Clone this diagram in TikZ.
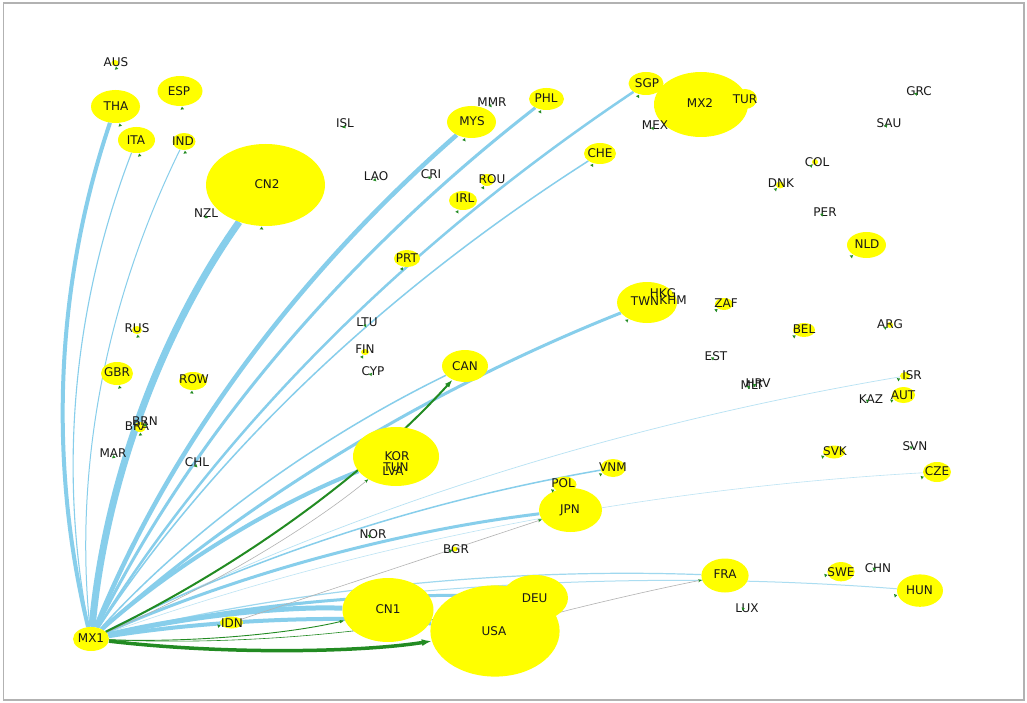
\documentclass[tikz,border=0pt]{standalone}
\usepackage{fontspec}
\setmainfont{DejaVu Sans}
\usetikzlibrary{shapes.geometric,arrows.meta,calc,backgrounds}
\definecolor{sky}{RGB}{135,206,235}
\definecolor{fgreen}{RGB}{34,139,34}
\definecolor{nodey}{RGB}{255,255,0}
\newcommand\sxf{1.45}
% arc edge: style, from, to, rad  (arc3-like, computed in unstretched space)
\newcommand\arcedge[4]{%
  \draw[#1] let \p1=(#2.center), \p2=(#3.center),
    \p3=({0.5*(\x1+\x2)-(#4)*\sxf*((\y2)-(\y1))},{0.5*(\y1+\y2)+(#4)*((\x2)-(\x1))/\sxf})
  in (#2) .. controls ($(\p1)!0.6667!(\p3)$) and ($(\p2)!0.6667!(\p3)$) .. (#3);}
% tiny green arrow tip at a node, arriving on the green arc from MX1
\newcommand\tipat[1]{%
  \path let \p1=(MX1.center), \p2=(#1.center),
    \p3=({0.5*(\x1+\x2)+0.1*\sxf*((\y2)-(\y1))},{0.5*(\y1+\y2)-0.1*((\x2)-(\x1))/\sxf})
  in (MX1) .. controls ($(\p1)!0.6667!(\p3)$) and ($(\p2)!0.6667!(\p3)$) .. node[tipmark,pos=1]{} (#1);}
\begin{document}
\begin{tikzpicture}[x=1pt,y=1pt,
  cnode/.style={ellipse, fill=nodey, draw=none, inner sep=0pt},
  lbl/.style={inner sep=0pt, font=\fontsize{12}{12}\selectfont, text=black!90},
  tipmark/.style={isosceles triangle, isosceles triangle stretches, fill=fgreen, draw=none,
    inner sep=0pt, minimum height=2.8pt, minimum width=3.6pt, anchor=apex, sloped, allow upside down},
  bl/.style={draw=sky},
  gr/.style={draw=gray!60, line width=0.6pt},
  gn/.style={draw=fgreen}]
\useasboundingbox (0,0) rectangle (1027,-703);
% nodes
\foreach \nm/\x/\y/\a/\b in {
 MX1/91/639/18/12, CN2/265.5/185/59.5/41, MX2/701/104.5/47/32.5, TUR/745/99/12/10,
 USA/495/631/64.6/45.6, CN1/388/610/45.5/32, KOR/396/456.5/43/29.5, DEU/535/598/33/23,
 TWN/647/302.5/30/20.5, JPN/570.5/510/31.5/22, FRA/725/575.5/23.6/17, HUN/920/590.6/23/16.2,
 CAN/465/366/23/16, MYS/471.5/122/24.5/16, THA/115.5/106.5/24.5/16.5, ESP/180/91/22.5/15,
 ITA/136.5/140/18.5/13, NLD/866.5/245/19.5/13, SGP/646/83.5/17.5/11.5, PHL/546.5/99/17.5/11,
 CHE/600/153.5/16/10.5, GBR/117/373.5/16/11.5, IRL/463/200.5/14/9.5, ROW/193/381/14/9,
 CZE/937/472/14/10, SWE/841/571.7/13.6/9.6, VNM/613/468/12.5/9, POL/564.5/484.5/12/8,
 PRT/407/258.5/13/8.5, IND/184/141.5/11.5/8.5, AUT/903.5/395/11.5/8, BEL/804/330/11/7,
 SVK/834/452/11/6.5, ZAF/724/304/9/6, IDN/231.5/622.5/11.5/6, ROU/487/180/7/6,
 ISR/905/376/5/4, RUS/137/330/5/4, BRA/140/427/6/5, DNK/780/185/4/3.5, AUS/115/63/3.5/3,
 COL/815/162/3/3, FIN/365/352/4/3, ARG/890/325/3/3, BGR/455/549/2.5/2.5}
 {\node[cnode, minimum width={2*\a*1pt}, minimum height={2*\b*1pt}] (\nm) at (\x,-\y) {};}
\foreach \nm/\x/\y in {
 NZL/206/213, ISL/345/123, LAO/376/176, CRI/431/174, MMR/492/102, MEX/655/125,
 GRC/919/91, SAU/889/123, PER/825/212, HKG/663/293, KHM/673/300, LTU/367/322,
 CYP/373/371, EST/716/356, MLT/752/385, HRV/758/383, KAZ/871/399, SVN/915/446,
 CHN/878/568, LUX/747/608, NOR/373/534, MAR/113/453, CHL/197/462, TUN/396/467,
 LVA/393/471, BRN/145/421}
 {\node[cnode, fill=none, minimum size=3pt] (\nm) at (\x,-\y) {};}
% edges
\begin{pgfonlayer}{background}
\fill[white] (0,0) rectangle (1027,-703);
\arcedge{bl, line width=0.6pt, draw=sky!55}{MX1}{CZE}{0.1}
\arcedge{bl, line width=0.7pt, draw=sky!60}{MX1}{ISR}{0.1}
\arcedge{bl, line width=1pt}{MX1}{IND}{0.1}
\arcedge{bl, line width=1.1pt}{MX1}{ITA}{0.1}
\arcedge{bl, line width=1.2pt, draw=sky!80}{MX1}{FRA}{0.1}
\arcedge{bl, line width=1pt, draw=sky!70}{MX1}{HUN}{0.1}
\arcedge{bl, line width=1.5pt}{MX1}{CHE}{0.1}
\arcedge{bl, line width=1.5pt}{MX1}{CAN}{0.1}
\arcedge{bl, line width=1.5pt}{MX1}{VNM}{0.1}
\arcedge{bl, line width=2.5pt}{MX1}{SGP}{0.1}
\arcedge{bl, line width=3pt}{MX1}{PHL}{0.1}
\arcedge{bl, line width=3pt}{MX1}{TWN}{0.1}
\arcedge{bl, line width=3pt}{MX1}{JPN}{0.1}
\arcedge{bl, line width=3pt}{MX1}{DEU}{0.1}
\arcedge{bl, line width=4pt}{MX1}{THA}{0.1}
\arcedge{bl, line width=4pt}{MX1}{KOR}{0.1}
\arcedge{bl, line width=4pt}{MX1}{USA}{0.1}
\arcedge{bl, line width=4.5pt}{MX1}{MYS}{0.1}
\arcedge{bl, line width=5pt}{MX1}{CN1}{0.1}
\arcedge{bl, line width=7pt}{MX1}{CN2}{0.1}
\arcedge{gr, -{Stealth[length=4pt,width=3pt,color=fgreen]}}{MX1}{KOR}{-0.08}
\arcedge{gr, -{Stealth[length=4pt,width=3pt,color=fgreen]}}{IDN}{JPN}{0}
\arcedge{gr, -{Stealth[length=4pt,width=3pt,color=fgreen]}}{USA}{FRA}{0.03}
\arcedge{gn, line width=0.6pt}{MX1}{DEU}{-0.1}
\arcedge{gn, line width=0.9pt, -{Latex[length=5pt,width=3.5pt]}}{MX1}{CN1}{-0.1}
\arcedge{gn, line width=2pt, -{Latex[length=8pt,width=5.5pt]}}{MX1}{CAN}{-0.1}
\arcedge{gn, line width=3.5pt, -{Latex[length=10pt,width=7pt]}}{MX1}{USA}{-0.1}
\end{pgfonlayer}
% labels
\foreach \nm/\x/\y in {
 MX1/91/638, CN2/267/184, MX2/700/103, TUR/745/99, USA/494/631, CN1/388/609,
 KOR/397/456, DEU/534.7/598.5, TWN/645/301, JPN/570/510, FRA/725/574.5, HUN/919.5/590.6,
 CAN/465/366, MYS/472/121, THA/116/106, ESP/179/91, ITA/136/140, NLD/867/244,
 SGP/647/83, PHL/546/98, CHE/600/153, GBR/117/372, IRL/465/198, ROW/194/379,
 CZE/937/471, SWE/841/571.7, VNM/613/467, POL/563/483, PRT/407/258, IND/183/141,
 AUT/903/395, BEL/804/329, SVK/835/451, ZAF/726/303, IDN/232/623, ROU/492/179,
 ISR/912/375, RUS/137/328, BRA/137/426, DNK/781/183, AUS/116/62, COL/817/162,
 FIN/365/349, ARG/890/324, BGR/456/549,
 NZL/206/213, ISL/345/123, LAO/376/176, CRI/431/174, MMR/492/102, MEX/655/125,
 GRC/919/91, SAU/889/123, PER/825/212, HKG/663/293, KHM/673/300, LTU/367/322,
 CYP/373/371, EST/716/356, MLT/752/385, HRV/758/383, KAZ/871/399, SVN/915/446,
 CHN/878/568, LUX/747/608, NOR/373/534, MAR/113/453, CHL/197/462, TUN/396/467,
 LVA/393/471, BRN/145/421}
 {\node[lbl] (t\nm) at (\x,-\y) {\nm};}
% small arrow tips
\foreach \nm in {CN2,TWN,HUN,MYS,THA,ESP,ITA,NLD,SGP,PHL,CHE,GBR,IRL,ROW,CZE,SWE,VNM,POL,PRT,
 IND,AUT,BEL,SVK,ZAF,IDN,ROU,ISR,RUS,BRA,DNK,AUS,COL,FIN,ARG,BGR,NZL,ISL,LAO,CRI,MMR,MEX,
 GRC,SAU,PER,LTU,CYP,EST,MLT,HRV,KAZ,SVN,CHN,LUX,NOR,MAR,CHL,BRN}
 {\tipat{\nm}}
% frame
\draw[gray!60, line width=1.5pt] (3.5,-3) rectangle (1024,-700);
\end{tikzpicture}
\end{document}
